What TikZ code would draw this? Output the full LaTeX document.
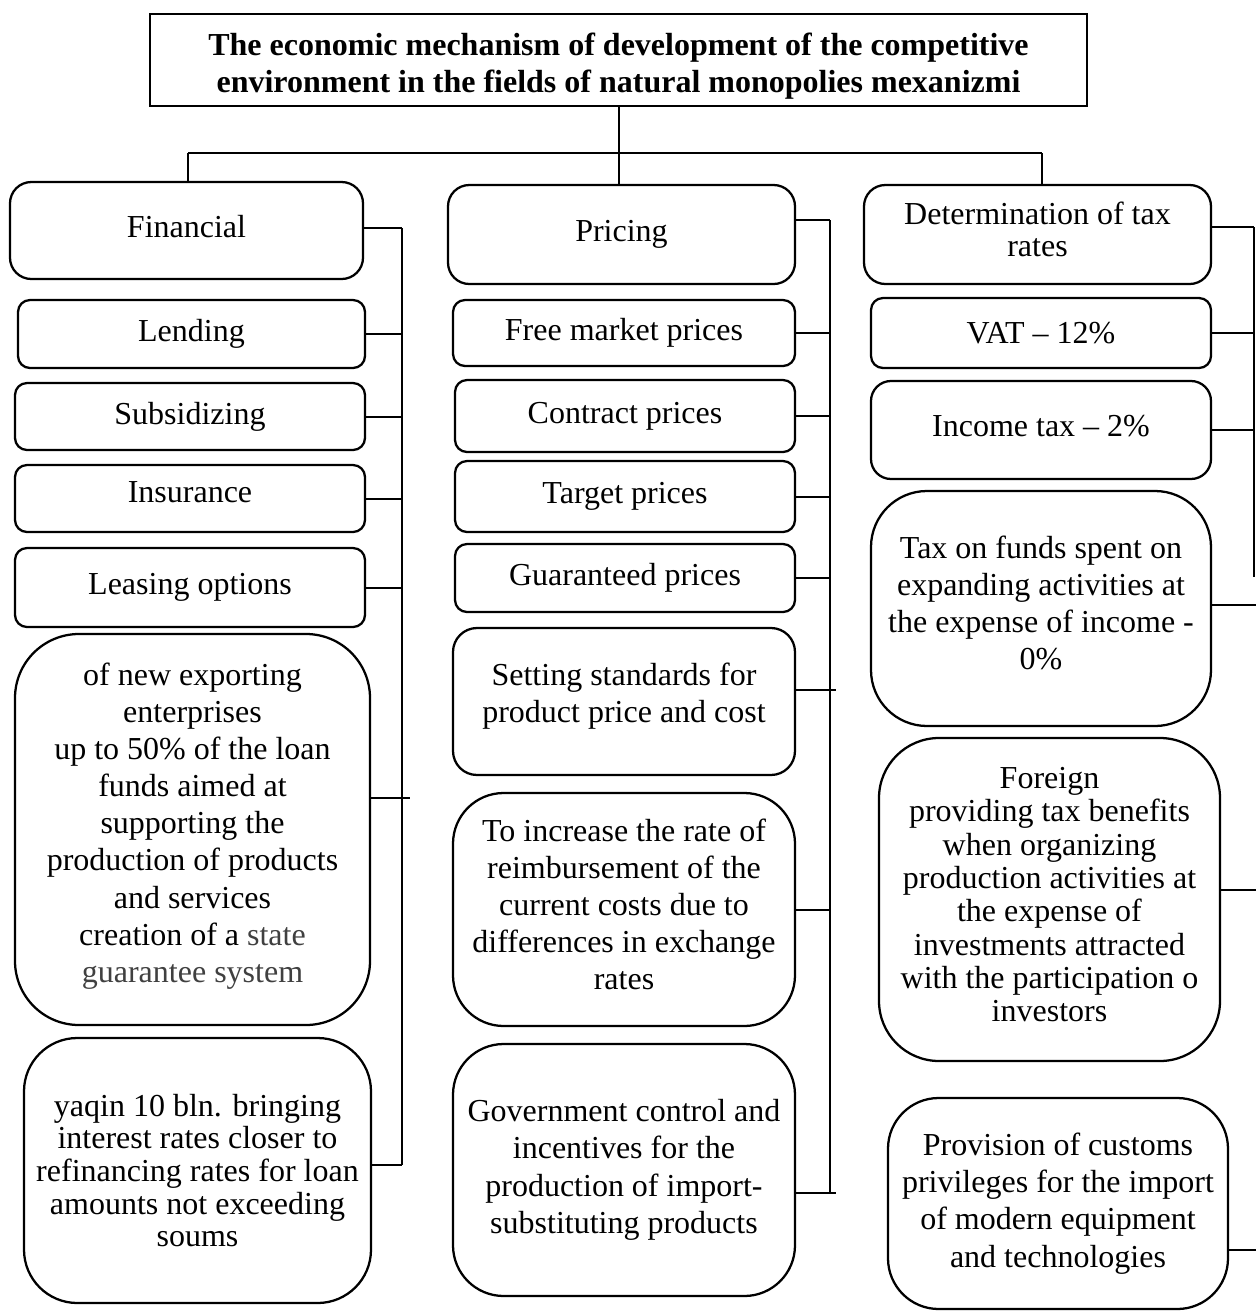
\documentclass[tikz,border=0pt]{standalone}
\usepackage{fontspec}
\setmainfont{Liberation Serif}
\newcommand{\bt}[3]{\raisebox{0pt}[\dimexpr\height+#1\relax][\dimexpr\depth+#2\relax]{\begin{tabular}{@{}c@{}}#3\end{tabular}}}
\begin{document}
\begin{tikzpicture}[x=0.75pt,y=-0.75pt,
  box/.style={draw, line width=1.7pt, inner sep=0pt, align=center,
    font=\fontsize{24}{27.5}\selectfont},
  sbox/.style={box, rounded corners=9pt},
  hbox/.style={box, rounded corners=16pt},
  lbox/.style={box, rounded corners=#1},
  dim/.style args={#1x#2}{minimum width=#1pt, minimum height=#2pt},
  conn/.style={line width=1.5pt}]
\useasboundingbox (0,0) rectangle (1256,1311);

% title
\node[draw, line width=1.7pt, inner sep=0pt, align=center,
  font=\bfseries\fontsize{24}{27.75}\selectfont, dim=702.75x69] (title) at (618.5,60)
  {\bt{10.5pt}{0pt}{The economic mechanism of development of the competitive\\environment in the fields of natural monopolies mexanizmi}};

% column 1
\node[hbox, dim=264.75x72.75] (fin) at (186.5,230.5) {\bt{0pt}{0pt}{Financial}};
\node[sbox, dim=260.25x51] (lend) at (191.5,334) {Lending};
\node[sbox, dim=262.5x50.25] (subs) at (190,416.5) {Subsidizing};
\node[sbox, dim=262.5x50.25] (ins) at (190,498.5) {\bt{0pt}{4.5pt}{Insurance}};
\node[sbox, dim=262.5x59.25] (leas) at (190,587.5) {Leasing options};
\node[lbox=48pt, dim=266.25x293.25, font=\fontsize{24}{27.8}\selectfont] (big) at (192.5,829.5)
  {\bt{0pt}{4.5pt}{of new exporting\\enterprises\\up to 50\% of the loan\\funds aimed at\\supporting the\\production of products\\and services\\creation of a \textcolor{black!75}{state}\\\textcolor{black!75}{guarantee system}}};
\node[lbox=40pt, dim=260.25x198.75, font=\fontsize{24}{24.5}\selectfont] (yaq) at (197.5,1170.5)
  {yaqin 10 bln. bringing\\interest rates closer to\\refinancing rates for loan\\amounts not exceeding\\soums};

% column 2
\node[hbox, dim=260.25x74.25] (pri) at (621.5,234.5) {Pricing};
\node[sbox, dim=256.5x49.5] (free) at (624,333) {Free market prices};
\node[sbox, dim=255x54] (contr) at (625,416) {Contract prices};
\node[sbox, dim=255x53.25] (targ) at (625,496.5) {Target prices};
\node[sbox, dim=255x51] (guar) at (625,578) {Guaranteed prices};
\node[lbox=18pt, dim=256.5x110.25] (sets) at (624,701.5)
  {\bt{0pt}{7.5pt}{Setting standards for\\product price and cost}};
\node[lbox=38pt, dim=256.5x174.75, font=\fontsize{24}{27.75}\selectfont] (incr) at (624,909.5)
  {\bt{0pt}{1.5pt}{To increase the rate of\\reimbursement of the\\current costs due to\\differences in exchange\\rates}};
\node[lbox=38pt, dim=256.5x189, font=\fontsize{24}{28}\selectfont] (gov) at (624,1170)
  {Government control and\\incentives for the\\production of import-\\substituting products};

% column 3
\node[hbox, dim=260.25x74.25, font=\fontsize{24}{24}\selectfont] (det) at (1037.5,234.5)
  {\bt{0pt}{0pt}{Determination of tax\\rates}};
\node[sbox, dim=255x52.5] (vat) at (1041,333) {VAT -- 12\%};
\node[lbox=15pt, dim=255x73.5] (inc) at (1041,430) {\bt{0pt}{1.5pt}{Income tax -- 2\%}};
\node[lbox=42pt, dim=255x176.25, font=\fontsize{24}{27.75}\selectfont] (tax) at (1041,608.5)
  {\bt{0pt}{2.25pt}{Tax on funds spent on\\expanding activities at\\the expense of income -\\0\%}};
\node[lbox=45pt, dim=255.75x242.25, font=\fontsize{24}{25}\selectfont] (forg) at (1049.5,899.5)
  {\bt{0pt}{1.5pt}{Foreign\\providing tax benefits\\when organizing\\production activities at\\the expense of\\investments attracted\\with the participation o\\investors}};
\node[lbox=38pt, dim=255x158.25, font=\fontsize{24}{28}\selectfont] (prov) at (1058,1203.5)
  {Provision of customs\\privileges for the import\\of modern equipment\\and technologies};

% top connectors
\coordinate (hl) at (188,153);
\coordinate (hr) at (1042,153);
\draw[conn] (title.south) -- (title.south |- pri.north);
\draw[conn] (hl) -- (hr);
\draw[conn] (hl) -- (hl |- fin.north);
\draw[conn] (hr) -- (hr |- det.north);

% column 1 spine
\coordinate (fsT) at (402,228);
\coordinate (fsB) at (402,1165);
\coordinate (fbig) at (410,798);
\draw[conn] (fsT) -- (fsB);
\draw[conn] (fin.east |- fsT) -- (fsT);
\draw[conn] (lend.east) -- (lend.east -| fsT);
\draw[conn] (subs.east) -- (subs.east -| fsT);
\draw[conn] (ins.east) -- (ins.east -| fsT);
\draw[conn] (leas.east) -- (leas.east -| fsT);
\draw[conn] (big.east |- fbig) -- (fbig);
\draw[conn] (yaq.east |- fsB) -- (fsB);

% column 2 spine
\coordinate (psT) at (830,220);
\coordinate (psB) at (830,1193);
\coordinate (pset) at (836,690);
\coordinate (pgov) at (836,1193);
\draw[conn] (psT) -- (psB);
\draw[conn] (pri.east |- psT) -- (psT);
\draw[conn] (free.east) -- (free.east -| psT);
\draw[conn] (contr.east) -- (contr.east -| psT);
\draw[conn] (targ.east) -- (targ.east -| psT);
\draw[conn] (guar.east) -- (guar.east -| psT);
\draw[conn] (sets.east |- pset) -- (pset);
\draw[conn] (incr.east) -- (incr.east -| psT);
\draw[conn] (gov.east |- pgov) -- (pgov);

% column 3 spine
\coordinate (tsT) at (1254,227);
\coordinate (tsB) at (1254,577);
\coordinate (ttax) at (1256,605);
\coordinate (tfor) at (1256,890);
\coordinate (tpro) at (1256,1250);
\draw[conn] (tsT) -- (tsB);
\draw[conn] (det.east |- tsT) -- (tsT);
\draw[conn] (vat.east) -- (vat.east -| tsT);
\draw[conn] (inc.east) -- (inc.east -| tsT);
\draw[conn] (tax.east |- ttax) -- (ttax);
\draw[conn] (forg.east |- tfor) -- (tfor);
\draw[conn] (prov.east |- tpro) -- (tpro);
\end{tikzpicture}
\end{document}
